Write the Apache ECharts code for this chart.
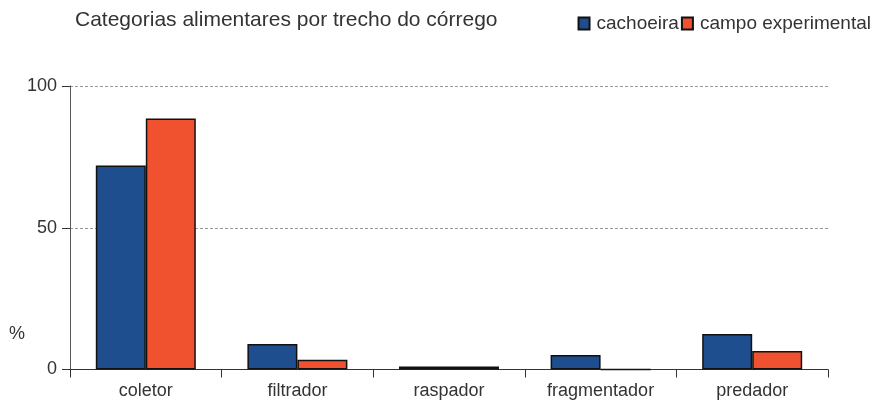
<!DOCTYPE html>
<html>
<head>
<meta charset="utf-8">
<script src="https://cdn.jsdelivr.net/npm/echarts@6/dist/echarts.min.js"></script>
<style>html,body{margin:0;padding:0;background:#fff}#c{width:878px;height:403px}</style>
</head>
<body>
<div id="c"></div>
<script>
var categories = ['coletor', 'filtrador', 'raspador', 'fragmentador', 'predador'];
var cachoeira = [72, 9, 1.1, 5.1, 12.5];
var campoExperimental = [88.5, 3.4, 1.1, 0, 6.5];
var yTicks = [0, 50, 100];

var chart = echarts.init(document.getElementById('c'), null, {renderer: 'canvas'});
var font = 'Liberation Sans, Arial, sans-serif';
chart.setOption({
  animation: false,
  textStyle: {fontFamily: font},
  title: {
    text: 'Categorias alimentares por trecho do córrego',
    left: 70, top: 5,
    textStyle: {fontSize: 21, fontWeight: 'normal', color: '#333', fontFamily: font}
  },
  legend: {
    right: 2, top: 9,
    icon: 'rect', itemWidth: 11, itemHeight: 12, itemGap: 2,
    textStyle: {fontSize: 19, color: '#333', padding: [0, 0, 0, 2], fontFamily: font},
    data: ['cachoeira', 'campo experimental']
  },
  grid: {left: 70, right: 50, top: 86, bottom: 33.5},
  xAxis: {
    type: 'category', data: categories,
    axisLine: {lineStyle: {color: '#333', width: 1}},
    axisTick: {show: true, length: 8, lineStyle: {color: '#333'}},
    axisLabel: {fontSize: 18, color: '#333', margin: 13, fontFamily: font}
  },
  yAxis: {
    type: 'value', min: 0, max: 100, interval: 50,
    axisLine: {show: true, lineStyle: {color: '#555'}},
    axisTick: {show: true, length: 8, lineStyle: {color: '#333'}},
    axisLabel: {fontSize: 18, color: '#333', margin: 13, fontFamily: font,
      formatter: function (v) { return yTicks.indexOf(v) >= 0 ? String(v) : ''; }},
    splitLine: {show: true, lineStyle: {color: '#999', type: [3, 2], width: 1}}
  },
  graphic: [{
    type: 'text', left: 9, top: 325,
    style: {text: '%', fontSize: 18, fill: '#333', fontFamily: font}
  }],
  series: [
    {name: 'cachoeira', type: 'bar', data: cachoeira, barWidth: 50, barGap: '0%',
     itemStyle: {color: '#1f4e8f', borderColor: '#111', borderWidth: 1.5}},
    {name: 'campo experimental', type: 'bar', data: campoExperimental, barWidth: 50,
     itemStyle: {color: '#f0512f', borderColor: '#111', borderWidth: 1.5}}
  ]
});
</script>
</body>
</html>
